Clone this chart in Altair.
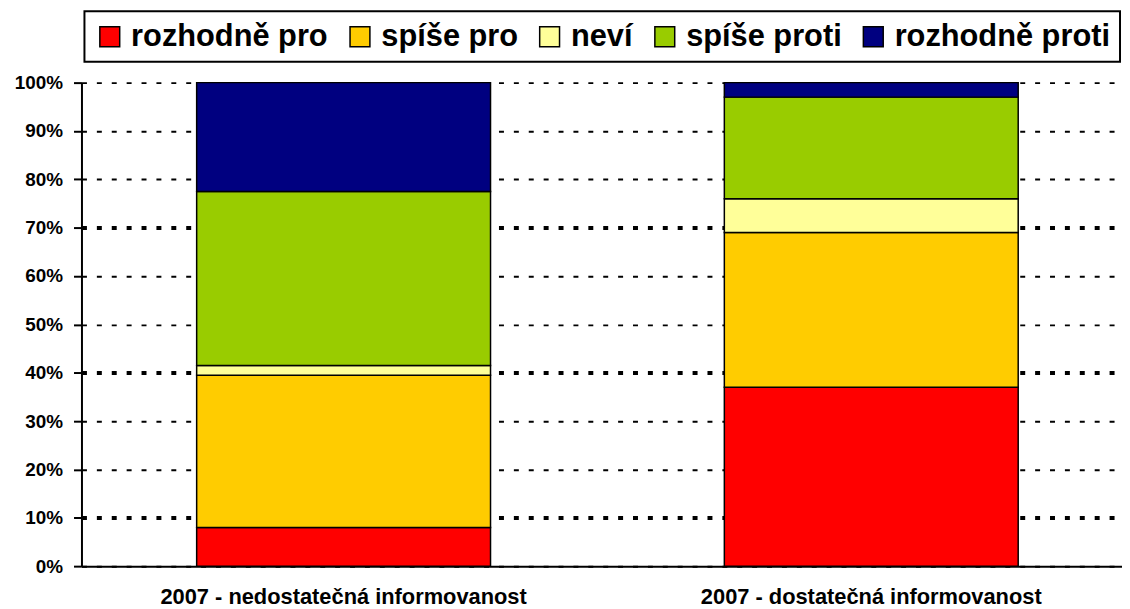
import altair as alt
import pandas as pd

categories = ["2007 - nedostatečná informovanost", "2007 - dostatečná informovanost"]
answers = ["rozhodně pro", "spíše pro", "neví", "spíše proti", "rozhodně proti"]
colors = ["#FF0000", "#FFCC00", "#FFFF99", "#99CC00", "#000080"]
values_nedostatecna = [8.0, 31.5, 2.0, 36.0, 22.5]
values_dostatecna = [37.0, 32.0, 7.0, 21.0, 3.0]
y_ticks = [0, 0.1, 0.2, 0.3, 0.4, 0.5, 0.6, 0.7, 0.8, 0.9, 1.0]

rows = []
for cat, vals in zip(categories, [values_nedostatecna, values_dostatecna]):
    for i, (a, v) in enumerate(zip(answers, vals)):
        rows.append({"kategorie": cat, "odpoved": a, "podil": v / 100, "poradi": i})
df = pd.DataFrame(rows)

FONT = "Liberation Sans"
thick = "abs(datum.value - 0.1) < 0.001 || abs(datum.value - 0.4) < 0.001 || abs(datum.value - 0.7) < 0.001"

chart = alt.Chart(df).mark_bar(stroke="black", strokeWidth=1.5).encode(
    x=alt.X(
        "kategorie:N",
        sort=categories,
        scale=alt.Scale(paddingInner=0.4431, paddingOuter=0.2075, align=0.526),
        axis=alt.Axis(
            title=None, labelAngle=0, ticks=False, tickSize=0,
            labelFontSize=22, labelFont=FONT, labelFontWeight="bold", labelColor="black",
            labelBaseline="alphabetic", labelPadding=38, labelLimit=600,
            domainColor="black", domainWidth=2, grid=False,
        ),
    ),
    y=alt.Y(
        "podil:Q",
        stack="zero",
        scale=alt.Scale(domain=[0, 1], nice=False),
        axis=alt.Axis(
            title=None, values=y_ticks, format=".0%",
            labelFontSize=19, labelFont=FONT, labelFontWeight="bold", labelColor="black",
            labelPadding=11, tickSize=8, tickWidth=2, tickColor="black",
            domainColor="black", domainWidth=2,
            grid=True, gridColor="black", gridDash=[5, 10],
            gridWidth=alt.condition(thick, alt.value(4), alt.value(2)),
        ),
    ),
    color=alt.Color(
        "odpoved:N",
        scale=alt.Scale(domain=answers, range=colors),
        legend=alt.Legend(
            title=None, orient="none", legendX=3, legendY=-72, direction="horizontal",
            columns=5, symbolType="square", symbolSize=400, symbolStrokeColor="black",
            symbolStrokeWidth=1.5, symbolOpacity=1,
            labelFontSize=31, labelFont=FONT, labelFontWeight="bold", labelColor="black",
            labelOffset=6, columnPadding=16, padding=10, strokeColor="black", labelLimit=500,
        ),
    ),
    order=alt.Order("poradi:Q"),
).properties(
    width=1048, height=487,
    autosize=alt.AutoSizeParams(type="none"),
    padding={"left": 74, "top": 73, "right": 0, "bottom": 41},
).configure_view(strokeWidth=0).configure_legend(strokeWidth=2)

chart.save("out.html", embed_options={"renderer": "svg", "actions": False})
